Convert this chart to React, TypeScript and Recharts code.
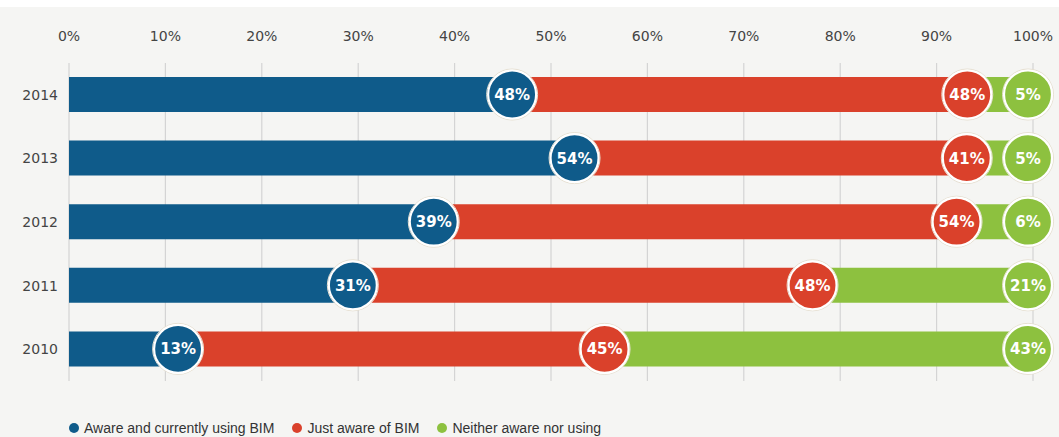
import React from 'react';
import { BarChart, Bar, XAxis, YAxis, CartesianGrid, Legend, LabelList } from 'recharts';

const years = ['2014', '2013', '2012', '2011', '2010'];
const awareUsing = [48, 54, 39, 31, 13];
const justAware = [48, 41, 54, 48, 45];
const neither = [5, 5, 6, 21, 43];
const xTicks = [0, 0.1, 0.2, 0.3, 0.4, 0.5, 0.6, 0.7, 0.8, 0.9, 1];
const seriesNames = ['Aware and currently using BIM', 'Just aware of BIM', 'Neither aware nor using'];
const seriesKeys = ['awareUsing', 'justAware', 'neither'];
const seriesColors = ['#0f5b8a', '#da412b', '#8dc13f'];

const data = years.map((year, i) => ({
  year,
  awareUsing: awareUsing[i],
  justAware: justAware[i],
  neither: neither[i],
}));

const FONT = '"DejaVu Sans", sans-serif';

const makeBadge = (color: string, offset: number, key: string) => (props: any) => {
  const vb = props.viewBox || {};
  const x = Number(props.x ?? vb.x);
  const y = Number(props.y ?? vb.y);
  const w = Number(props.width ?? vb.width);
  const h = Number(props.height ?? vb.height);
  let v = props.value;
  if (Array.isArray(v) || v === undefined) {
    v = props.index !== undefined ? (data as any)[props.index][key] : '';
  }
  const cx = x + w - offset;
  const cy = y + h / 2;
  return (
    <g>
      <circle cx={cx} cy={cy} r={25.5} fill="none" stroke="#e6dfd0" strokeWidth={1} />
      <circle cx={cx} cy={cy} r={24} fill={color} stroke="#ffffff" strokeWidth={2.2} />
      <text
        x={cx}
        y={cy}
        dy="0.37em"
        textAnchor="middle"
        fill="#ffffff"
        fontFamily={FONT}
        fontWeight={700}
        fontSize={15}
      >
        {v}%
      </text>
    </g>
  );
};

const LegendContent = () => (
  <div
    style={{
      display: 'flex',
      alignItems: 'center',
      height: 18,
      fontFamily: '"Liberation Sans", Arial, sans-serif',
      fontSize: 14,
      color: '#333',
      whiteSpace: 'nowrap',
    }}
  >
    {seriesNames.map((n, i) => (
      <div key={n} style={{ display: 'flex', alignItems: 'center', marginRight: 18 }}>
        <span
          style={{
            display: 'inline-block',
            width: 10,
            height: 10,
            borderRadius: 5,
            background: seriesColors[i],
            marginRight: 5,
          }}
        />
        <span>{n}</span>
      </div>
    ))}
  </div>
);

export default function App() {
  const offsets = [15, 18, 5];
  return (
    <div
      style={{
        width: 1059,
        height: 437,
        background: 'linear-gradient(#ffffff 0px, #ffffff 7px, #f5f5f3 7px)',
        position: 'relative',
      }}
    >
      <style>{'body{margin:0}'}</style>
      <BarChart
        width={1059}
        height={437}
        data={data}
        layout="vertical"
        stackOffset="expand"
        margin={{ top: 33, right: 26, bottom: 38, left: 0 }}
        barSize={35}
      >
        <CartesianGrid horizontal={false} stroke="#d4d4d4" strokeWidth={1.2} />
        <XAxis
          type="number"
          orientation="top"
          domain={[0, 1]}
          ticks={xTicks}
          tickFormatter={(v: number) => `${Math.round(v * 100)}%`}
          axisLine={false}
          tickLine={false}
          tickSize={0}
          tickMargin={22}
          height={30}
          interval={0}
          tick={{ fill: '#444', fontSize: 14, fontFamily: FONT }}
        />
        <XAxis xAxisId="lbl" type="number" domain={[0, 1]} hide />
        <YAxis
          type="category"
          dataKey="year"
          width={69}
          axisLine={false}
          tickLine={false}
          tickSize={0}
          tickMargin={11}
          tick={{ fill: '#444', fontSize: 14, fontFamily: FONT }}
        />
        <YAxis yAxisId="lbl" type="category" dataKey="year" hide />
        <Legend
          verticalAlign="bottom"
          align="left"
          content={<LegendContent />}
          wrapperStyle={{ left: 69, top: 419, width: 700 }}
        />
        {seriesKeys.map((k, i) => (
          <Bar
            key={k}
            dataKey={k}
            name={seriesNames[i]}
            stackId="a"
            fill={seriesColors[i]}
            isAnimationActive={false}
          />
        ))}
        {seriesKeys.map((k, i) => (
          <Bar
            key={k + '-lbl'}
            dataKey={k}
            xAxisId="lbl"
            yAxisId="lbl"
            stackId="b"
            fill="transparent"
            legendType="none"
            isAnimationActive={false}
          >
            <LabelList dataKey={k} content={makeBadge(seriesColors[i], offsets[i], k)} />
          </Bar>
        ))}
      </BarChart>
    </div>
  );
}
